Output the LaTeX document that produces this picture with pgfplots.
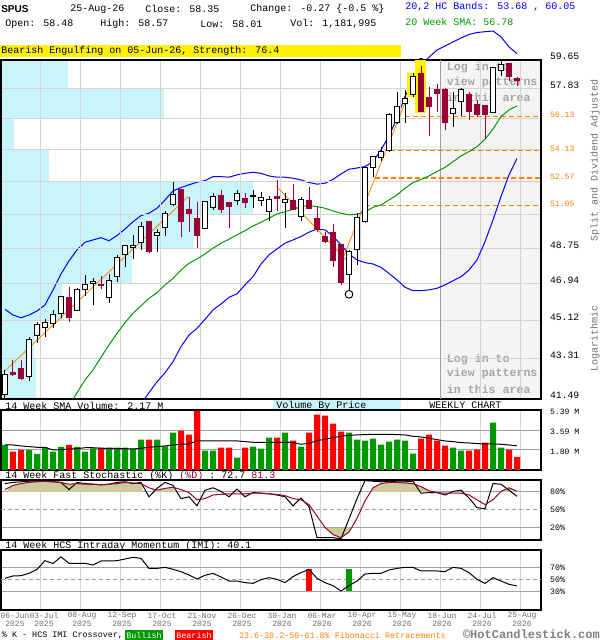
\documentclass[border=0pt]{standalone}
\usepackage{fontspec}
\setmainfont{Liberation Mono}
\newfontfamily\sansfont{Liberation Sans}
\usepackage{pgfplots}
\usepackage{pgfplotstable}
\pgfplotsset{compat=1.18}

\definecolor{candred}{RGB}{153,0,51}
\definecolor{vgreen}{RGB}{0,153,0}
\definecolor{vred}{RGB}{255,0,0}
\definecolor{bandblue}{RGB}{0,0,255}
\definecolor{smagreen}{RGB}{0,153,0}
\definecolor{fibor}{RGB}{255,128,0}
\definecolor{vbp}{RGB}{200,244,252}
\definecolor{gridl}{RGB}{211,211,211}
\definecolor{gridd}{RGB}{160,160,160}
\definecolor{loginbg}{RGB}{244,244,244}
\definecolor{logintxt}{RGB}{165,165,165}
\definecolor{khaki}{RGB}{204,204,153}
\definecolor{txtgray}{RGB}{110,110,110}

\newcommand{\fs}[1]{\fontsize{#1}{#1}\selectfont}

\pgfplotstableread{
i o h l c ub sma lb
0 41.67 42.80 41.53 42.61 45.67 nan nan
1 42.67 43.26 42.54 42.57 45.39 nan nan
2 42.87 43.26 42.34 42.39 45.26 nan nan
3 42.49 44.32 42.31 44.23 45.39 nan nan
4 44.40 45.07 44.07 44.94 45.59 nan nan
5 44.80 45.18 44.35 45.04 45.88 nan nan
6 44.99 45.64 44.75 45.43 46.63 nan nan
7 45.49 46.33 45.23 46.28 47.43 nan nan
8 46.26 46.76 45.07 45.26 48.10 41.20 nan
9 45.62 46.71 45.59 46.63 48.67 41.77 nan
10 46.63 47.38 46.33 46.91 49.07 42.34 nan
11 46.96 47.21 45.88 47.03 49.19 42.80 nan
12 46.89 47.35 46.66 46.84 49.31 43.38 nan
13 46.26 47.43 46.00 47.08 49.15 43.96 nan
14 47.29 48.41 47.04 48.30 49.42 44.51 nan
15 48.41 48.93 47.80 48.88 49.77 45.02 nan
16 48.81 49.46 48.20 48.88 50.16 45.48 nan
17 49.05 50.13 48.67 49.88 50.49 45.84 41.28
18 50.15 50.22 48.53 48.56 50.62 46.21 41.77
19 49.40 49.77 48.58 49.61 50.89 46.49 42.26
20 49.87 50.76 49.42 50.62 51.34 46.88 42.67
21 51.07 52.33 51.02 51.62 51.84 47.21 43.18
22 51.90 51.94 49.37 50.16 52.03 47.63 43.88
23 50.83 51.53 49.61 50.58 52.18 47.98 44.43
24 50.35 51.22 48.79 49.42 52.33 48.20 44.75
25 49.81 51.29 49.77 51.25 52.42 48.46 45.18
26 50.92 51.75 50.80 51.51 52.64 48.76 45.64
27 51.60 51.90 50.65 50.80 52.64 49.02 45.93
28 51.22 51.25 49.84 50.98 52.61 49.23 46.26
29 51.29 51.90 51.07 51.71 52.74 49.46 46.43
30 51.44 51.71 50.92 51.20 52.83 49.68 46.88
31 51.52 51.90 50.92 51.56 52.89 49.93 47.29
32 51.31 51.80 51.03 51.49 52.83 50.13 47.94
33 50.70 51.56 50.22 51.38 52.68 50.35 48.41
34 51.53 52.46 50.74 51.45 52.61 50.58 48.72
35 51.22 51.71 49.84 51.38 52.61 50.70 49.02
36 51.29 52.23 50.80 50.83 52.55 50.83 49.19
37 50.44 51.53 50.22 51.38 52.46 50.98 49.37
38 51.29 52.05 50.83 50.89 52.31 51.03 49.60
39 50.35 50.98 49.63 49.72 52.22 50.98 49.77
40 49.37 49.63 49.05 49.10 52.27 50.89 49.72
41 49.61 50.04 47.80 48.11 52.49 50.74 49.40
42 48.93 48.95 46.88 46.99 52.79 50.62 48.93
43 47.42 48.67 46.63 48.60 53.06 50.53 48.46
44 48.67 50.65 47.89 50.40 53.13 50.56 48.15
45 50.16 53.21 50.11 53.17 53.21 50.70 48.01
46 53.15 53.82 52.64 53.78 53.49 50.94 47.94
47 53.75 54.36 53.55 54.07 54.17 51.07 47.77
48 54.11 56.34 54.07 56.28 54.99 51.34 47.46
49 55.78 57.62 55.70 56.74 56.04 51.62 47.13
50 56.95 57.76 55.78 57.25 57.35 51.99 46.76
51 57.46 58.81 57.35 58.59 58.39 52.31 46.59
52 58.76 59.25 56.40 56.44 59.33 52.49 46.59
53 57.31 57.97 54.99 56.74 59.82 52.68 46.63
54 57.76 58.14 56.44 57.56 60.29 52.93 46.71
55 57.76 57.91 55.34 55.78 60.55 53.17 46.88
56 56.34 57.66 55.54 56.64 60.81 53.49 47.09
57 57.05 57.87 56.18 57.81 61.07 53.82 47.29
58 57.46 57.66 55.94 56.44 61.30 54.07 47.63
59 56.84 57.15 56.14 56.28 61.43 54.36 48.15
60 56.78 56.82 54.79 56.28 61.48 54.79 49.10
61 56.38 59.22 56.34 59.19 61.53 55.40 50.26
62 59.01 59.60 58.64 59.33 61.14 56.14 51.53
63 59.40 59.44 58.34 58.59 60.49 56.54 52.74
64 58.48 58.57 58.01 58.35 60.05 56.78 53.68
}\ohlc

\pgfplotstableread{
i k d imi vs
0 94 84 52.8 2.25
1 96 91 56.7 2.25
2 97 94 57.2 2.16
3 98 96 61.1 2.10
4 98 97 67.8 2.04
5 98 98 82.2 2.04
6 97 97 77.5 1.80
7 96 96 88.5 1.83
8 84 93 77.8 1.89
9 96 94 77.8 1.92
10 94 93 77.8 2.00
11 93 93 75.0 2.00
12 92 92 81.7 1.95
13 93 93 81.7 1.95
14 96 94 82.2 1.92
15 97 96 85.0 1.92
16 94 95 87.8 1.89
17 96 94 86.1 1.95
18 72 87 69.4 2.04
19 86 83 69.4 2.10
20 96 86 71.1 2.16
21 91 88 67.8 2.25
22 69 84 63.9 2.31
23 72 79 58.3 2.34
24 57 67 51.7 2.61
25 83 69 57.8 2.61
26 87 75 61.1 2.61
27 81 76 55.0 2.61
28 72 77 48.3 2.61
29 85 77 48.3 2.61
30 72 77 45.6 2.55
31 79 78 44.4 2.49
32 78 78 50.6 2.49
33 77 77 53.9 2.49
34 75 76 51.1 2.49
35 72 74 45.6 2.49
36 57 69 55.6 2.46
37 70 67 62.2 2.31
38 55.6 59 67.8 2.40
39 4 40 52.8 2.64
40 4 21 45.6 2.76
41 4 9 40.6 2.91
42 2 4 31.7 3.03
43 35 13 40.6 3.12
44 69 36 48.3 3.15
45 99 65 60.0 3.18
46 98 87 61.1 3.21
47 97 94 61.1 3.21
48 98 96 66.7 3.21
49 97 96 69.4 3.18
50 97 95 71.1 3.15
51 98 94 71.1 3.03
52 78 89 65.0 2.97
53 79 82 65.0 2.85
54 79 79 65.0 2.73
55 75 78 63.9 2.61
56 81 78 71.1 2.55
57 83 78 69.4 2.46
58 70 75 62.2 2.43
59 54 67 51.1 2.37
60 52 59 44.4 2.34
61 94 67 53.9 2.34
62 93 81 48.3 2.31
63 83 87 42.8 2.25
64 72.7 81.3 40.1 2.17
}\ind

\pgfplotstableread{
i v
0 2.25
3 1.80
4 1.44
5 2.00
6 1.64
7 2.07
9 2.07
10 1.64
11 1.95
13 2.00
14 2.00
15 2.00
16 1.89
17 2.72
19 2.72
20 2.13
21 3.35
25 1.74
26 1.74
29 1.11
31 2.10
32 1.92
33 2.90
35 3.35
37 2.10
43 3.35
44 2.72
45 2.63
46 2.81
47 2.28
48 2.54
49 2.72
50 2.63
51 1.47
56 2.00
57 1.74
61 4.25
62 2.00
}\volg

\pgfplotstableread{
i v
1 1.64
2 1.80
8 2.25
12 2.00
18 2.72
22 3.53
23 3.17
24 5.33
27 2.00
28 2.00
30 2.00
34 2.90
36 2.63
38 3.35
39 4.97
40 4.88
41 4.16
42 3.44
52 2.81
53 3.17
54 2.63
55 2.19
58 1.74
59 1.83
60 2.46
63 1.83
64 1.18
}\volr

\pgfplotsset{
  basepanel/.style={scale only axis, width=405pt, anchor=south west,
    xmin=-0.5, xmax=67,
    xtick={4.375,9.375,14.375,19.375,24.375,29.375,34.375,39.375,44.375,49.375,54.375,59.375,64.375},
    xticklabels={}, major tick length=0pt,
    axis line style={black, line width=1pt},
    xmajorgrids, ymajorgrids,
    major x grid style={color=gridl, line width=0.75pt},
    yticklabel pos=right,
    yticklabel style={anchor=west, inner sep=0pt, xshift=6.75pt},
  },
  bgpanel/.style={scale only axis, width=405pt, anchor=south west,
    xmin=-0.5, xmax=67, hide axis, clip=false},
}

\begin{document}
\begin{tikzpicture}[x=0.75pt,y=0.75pt, every node/.style={inner sep=0pt, outer sep=0pt}]
\path[use as bounding box] (0,0) rectangle (600,640);
\fill[white] (0,0) rectangle (600,640);

% ---------- background layer of price panel ----------
\begin{axis}[bgpanel, at={(0.75pt,180.75pt)}, height=254.25pt, ymode=log, ymin=41.49, ymax=59.65]
\addplot[fill=vbp, draw=none] coordinates {(-0.5,57.83) (7.84,57.83) (7.84,59.65) (-0.5,59.65)} -- cycle;
\addplot[fill=vbp, draw=none] coordinates {(-0.5,56.02) (19.875,56.02) (19.875,57.83) (-0.5,57.83)} -- cycle;
\addplot[fill=vbp, draw=none] coordinates {(-0.5,54.20) (1.125,54.20) (1.125,56.02) (-0.5,56.02)} -- cycle;
\addplot[fill=vbp, draw=none] coordinates {(-0.5,52.39) (5.5,52.39) (5.5,54.20) (-0.5,54.20)} -- cycle;
\addplot[fill=vbp, draw=none] coordinates {(-0.5,50.57) (30.96,50.57) (30.96,52.39) (-0.5,52.39)} -- cycle;
\addplot[fill=vbp, draw=none] coordinates {(-0.5,48.75) (23.6,48.75) (23.6,50.57) (-0.5,50.57)} -- cycle;
\addplot[fill=vbp, draw=none] coordinates {(-0.5,46.94) (15.84,46.94) (15.84,48.75) (-0.5,48.75)} -- cycle;
\addplot[fill=vbp, draw=none] coordinates {(-0.5,45.12) (7.125,45.12) (7.125,46.94) (-0.5,46.94)} -- cycle;
\addplot[fill=vbp, draw=none] coordinates {(-0.5,43.31) (3.6,43.31) (3.6,45.12) (-0.5,45.12)} -- cycle;
\addplot[fill=vbp, draw=none] coordinates {(-0.5,41.49) (3.84,41.49) (3.84,43.31) (-0.5,43.31)} -- cycle;
\addplot[fill=loginbg, draw=none] coordinates {(54.375,41.49) (67,41.49) (67,59.65) (54.375,59.65)} -- cycle;
\addplot[bandblue, line width=0.75pt] table[x=i, y=ub]{\ohlc};
\addplot[only marks, mark=o, mark size=2.9pt, black, mark options={line width=0.75pt}] coordinates {(52,59.50) (43,46.41)};
\end{axis}

% "log in" texts
\begin{scope}[every node/.style={anchor=west, inner sep=0pt, font=\fs{8.7}\bfseries, text=logintxt}]
\node at (446.7,572.7) {Log in to};
\node at (446.7,557.7) {view patterns};
\node at (446.7,542.7) {in this area};
\node at (446.7,280.7) {Log in to};
\node at (446.7,266) {view patterns};
\node at (446.7,251) {in this area};
\end{scope}

% ---------- main price panel ----------
\begin{axis}[basepanel, at={(0.75pt,180.75pt)}, height=254.25pt,
  ymode=log, ymin=41.49, ymax=59.65,
  ytick={41.49,43.31,45.12,46.94,48.75,50.57,52.39,54.20,56.02,57.83,59.65},
  yticklabels={41.49,43.31,45.12,46.94,48.75,,,,,57.83,59.65},
  major y grid style={color=gridl, line width=0.75pt},
  yticklabel style={font=\fs{7.3}, yshift=2.6pt},
  extra y ticks={51.05,52.57,54.13,56.13},
  extra y tick labels={51.05,52.57,54.13,56.13},
  extra y tick style={grid=none, yticklabel style={text=fibor, font=\fs{6.1}, yshift=-1.5pt}},
]
\addplot[gridd, line width=0.75pt] coordinates {(54.375,41.49) (54.375,59.65)};
% Fibonacci levels
\addplot[fibor, line width=1.1pt, dash pattern=on 3.75pt off 2.25pt] coordinates {(50,56.13) (67,56.13)};
\addplot[fibor, line width=1.1pt, dash pattern=on 3.75pt off 2.25pt] coordinates {(48.1,54.13) (67,54.13)};
\addplot[fibor, line width=1.1pt, dash pattern=on 3.75pt off 2.25pt] coordinates {(46.25,52.57) (67,52.57)};
\addplot[fibor, line width=1.1pt, dash pattern=on 3.75pt off 2.25pt] coordinates {(45,51.05) (67,51.05)};
% trend lines
\addplot[fibor, line width=0.6pt] coordinates {(-0.125,42.72) (22.9,51.53)};
\addplot[fibor, line width=0.6pt] coordinates {(33.9,52.12) (42.9,48.04)};
\addplot[fibor, line width=0.6pt] coordinates {(41.9,47.89) (51.9,59.33)};
% SMA and lower band
\addplot[smagreen, line width=0.75pt] table[x=i, y=sma]{\ohlc};
\addplot[bandblue, line width=0.75pt] table[x=i, y=lb]{\ohlc};
% pattern highlight
\addplot[fill=yellow, draw=none] coordinates {(50.2,57.35) (51.25,57.35) (51.25,58.85) (50.2,58.85)} -- cycle;
\addplot[fill=yellow, draw=none] coordinates {(51.25,56.34) (52.6,56.34) (52.6,59.65) (51.25,59.65)} -- cycle;
% candles
\pgfplotsinvokeforeach{0,...,64}{%
  \pgfplotstablegetelem{#1}{o}\of\ohlc \let\vo\pgfplotsretval
  \pgfplotstablegetelem{#1}{h}\of\ohlc \let\vh\pgfplotsretval
  \pgfplotstablegetelem{#1}{l}\of\ohlc \let\vl\pgfplotsretval
  \pgfplotstablegetelem{#1}{c}\of\ohlc \let\vc\pgfplotsretval
  \pgfmathtruncatemacro\up{(\vc>=\vo)}%
  \pgfmathsetmacro\xa{#1-0.33}%
  \pgfmathsetmacro\xb{#1+0.33}%
  \ifnum\up=1
    \edef\next{\noexpand\addplot[black,line width=0.75pt] coordinates {(#1,\vl) (#1,\vh)};%
      \noexpand\addplot[draw=black,fill=white,line width=0.75pt] coordinates {(\xa,\vo) (\xb,\vo) (\xb,\vc) (\xa,\vc)} -- cycle;}%
  \else
    \edef\next{\noexpand\addplot[candred,line width=0.75pt] coordinates {(#1,\vl) (#1,\vh)};%
      \noexpand\addplot[draw=candred,fill=candred,line width=0.75pt] coordinates {(\xa,\vo) (\xb,\vo) (\xb,\vc) (\xa,\vc)} -- cycle;}%
  \fi
  \next
}
\end{axis}

% ---------- header ----------
\begin{scope}[every node/.style={anchor=west, inner sep=0pt, font=\fs{7.5}}]
\node[font=\sansfont\bfseries\fs{7.5}] at (1,631) {SPUS};
\node at (70,631) {25-Aug-26};
\node at (145,631) {Close: 58.35};
\node at (250,631) {Change: -0.27 \{-0.5 \%\}};
\node at (5,616) {Open: 58.48};
\node at (100,616) {High: 58.57};
\node at (200,616) {Low: 58.01};
\node at (290,616) {Vol: 1,181,995};
\node[text=bandblue] at (405,633) {20,2 HC Bands: 53.68 , 60.05};
\node[text=smagreen] at (405,618) {20 Week SMA: 56.78};
\fill[yellow] (0,583) rectangle (401,595);
\node at (1,589) {Bearish Engulfing on 05-Jun-26, Strength: 76.4};
% panel label rows
\node at (5,234.5) {14 Week SMA Volume: 2.17 M};
\fill[vbp] (273,230.5) rectangle (401,240);
\node at (276,234.5) {Volume By Price};
\node at (429,234.5) {WEEKLY CHART};
\node at (5,164.5) {14 Week Fast Stochastic (\%K) \textcolor{candred}{(\%D)} : 72.7 \textcolor{candred}{81.3}};
\node at (5,94.5) {14 Week HCS Intraday Momentum (IMI): 40.1};
\end{scope}
\node[rotate=90, font=\fs{7.5}, text=txtgray] at (595,480) {Split and Dividend Adjusted};
\node[rotate=90, font=\fs{7.5}, text=txtgray] at (595,302) {Logarithmic};

% ---------- volume panel ----------
\begin{axis}[basepanel, at={(0.75pt,127.5pt)}, height=45pt, ymin=0, ymax=5.39,
  ytick={1.80,3.59,5.39}, yticklabels={1.80 M,3.59 M,5.39 M},
  major y grid style={color=gridd, line width=0.75pt},
  yticklabel style={font=\fs{6.1}, yshift=-1.3pt}]
\addplot[ybar, bar width=4.5pt, bar shift=0pt, fill=vgreen, draw=none] table[x=i, y=v]{\volg};
\addplot[ybar, bar width=4.5pt, bar shift=0pt, fill=vred, draw=none] table[x=i, y=v]{\volr};
\addplot[black, line width=0.75pt] table[x=i, y=vs]{\ind};
\end{axis}

% ---------- stochastic panel ----------
\begin{axis}[basepanel, at={(0.75pt,75pt)}, height=45pt, ymin=0, ymax=100,
  ytick={20,80}, yticklabels={20\%,80\%},
  extra y ticks={50}, extra y tick labels={50\%}, extra y tick style={grid=none},
  major y grid style={color=gridd, line width=0.75pt},
  yticklabel style={font=\fs{6.25}}]
\addplot[fill=khaki, draw=none] coordinates {(0.4,80) (0.4,86.8) (1,91) (2,94) (3,96) (4,97) (5,98) (6,97) (7,96) (8,93) (9,94) (10,93) (11,93) (12,92) (13,93) (14,94) (15,96) (16,95) (17,94) (17.2,92.6) (17.2,80)} -- cycle;
\addplot[fill=khaki, draw=none] coordinates {(18.3,80) (18.3,85.8) (19,83) (20,86) (21,88) (21.1,87.6) (21.1,80)} -- cycle;
\addplot[fill=khaki, draw=none] coordinates {(45.68,80) (46,87) (47,94) (48,96) (49,96) (50,95) (51,94) (52,89) (53,82) (53.1,81.7) (53.1,80)} -- cycle;
\addplot[fill=khaki, draw=none] coordinates {(62.4,80) (62.4,83.4) (63,87) (64,81.3) (64,80)} -- cycle;
\addplot[fill=khaki, draw=none] coordinates {(40.08,20) (41,9) (42,4) (43,13) (43.3,20)} -- cycle;
\addplot[gridd, line width=0.75pt, dash pattern=on 3pt off 2.25pt] coordinates {(-0.5,50) (67,50)};
\addplot[black, line width=0.75pt] table[x=i, y=k]{\ind};
\addplot[candred, line width=0.75pt] table[x=i, y=d]{\ind};
\end{axis}

% ---------- IMI panel ----------
\begin{axis}[basepanel, at={(0.75pt,22.5pt)}, height=45pt, ymin=0, ymax=100,
  ytick={30,70}, yticklabels={30\%,70\%},
  extra y ticks={50}, extra y tick labels={50\%}, extra y tick style={grid=none},
  major y grid style={color=gridd, line width=0.75pt},
  yticklabel style={font=\fs{6.25}}]
\addplot[gridd, line width=0.75pt, dash pattern=on 3pt off 2.25pt] coordinates {(-0.5,50) (67,50)};
\addplot[vred, line width=4.5pt] coordinates {(38,32) (38,68)};
\addplot[vgreen, line width=4.5pt] coordinates {(43,32) (43,68)};
\addplot[black, line width=0.75pt] table[x=i, y=imi]{\ind};
\end{axis}

% ---------- date labels ----------
\foreach \x/\d/\y in {15/06-Jun/2025, 44/03-Jul/2025, 82/08-Aug/2025, 122/12-Sep/2025,
  162/17-Oct/2025, 202/21-Nov/2025, 242/26-Dec/2025, 282/30-Jan/2026, 322/06-Mar/2026,
  362/10-Apr/2026, 402/15-May/2026, 442/18-Jun/2026, 482/24-Jul/2026, 522/25-Aug/2026}{
  \node[font=\fs{6}, text=txtgray] at (\x,24) {\d};
  \node[font=\fs{6}, text=txtgray] at (\x,16) {\y};
}

% ---------- bottom legend ----------
\node[anchor=west, font=\fs{6.3}] at (2,5) {\% K - HCS IMI Crossover,};
\node[fill=vgreen, text=white, font=\fs{6.3}, minimum width=28.5pt, minimum height=7pt] at (144,5) {Bullish};
\node[fill=vred, text=white, font=\fs{6.3}, minimum width=28.5pt, minimum height=7pt] at (194,5) {Bearish};
\node[anchor=west, text=fibor, font=\fs{6.3}] at (239,5) {23.6-38.2-50-61.8\% Fibonacci Retracements};
\node[anchor=west, text=gray, font=\fs{9}\bfseries] at (463,5.5) {©HotCandlestick.com};
\end{tikzpicture}
\end{document}
